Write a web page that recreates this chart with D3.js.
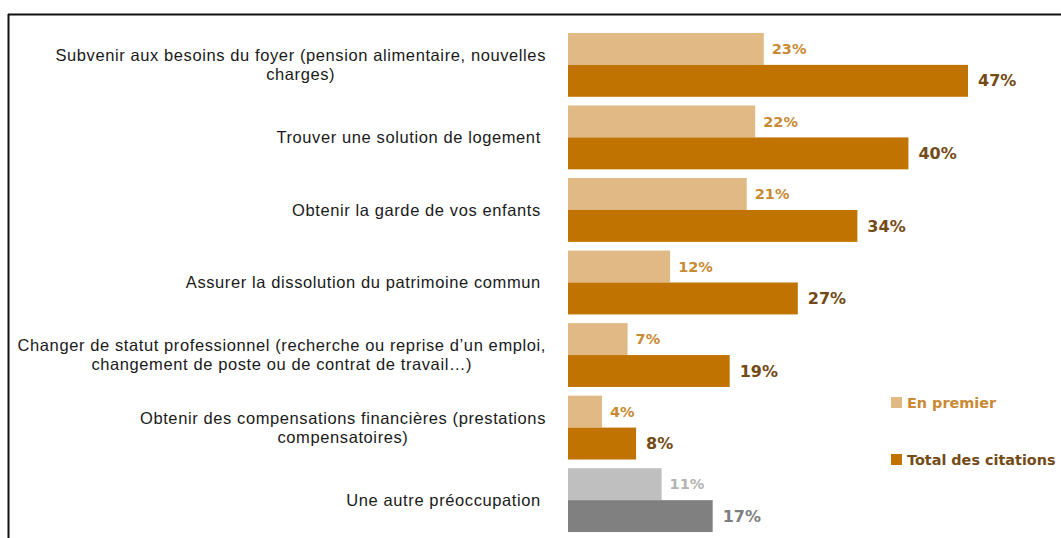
<!DOCTYPE html>
<html><head><meta charset="utf-8">
<script src="https://cdn.jsdelivr.net/npm/d3@7"></script>
<style>
html,body{margin:0;padding:0;background:#fff;}
svg{display:block;}
</style></head>
<body>
<svg id="chart" width="1061" height="538"></svg>
<script>
const categories = [
  ["Subvenir aux besoins du foyer (pension alimentaire, nouvelles", "charges)"],
  ["Trouver une solution de logement "],
  ["Obtenir la garde de vos enfants "],
  ["Assurer la dissolution du patrimoine commun "],
  ["Changer de statut professionnel (recherche ou reprise d\u2019un emploi,", "changement de poste ou de contrat de travail\u2026)"],
  ["Obtenir des compensations financi\u00e8res (prestations", "compensatoires)"],
  ["Une autre pr\u00e9occupation "]
];
const seriesNames = ["En premier", "Total des citations"];
const enPremier = [23, 22, 21, 12, 7, 4, 11];
const totalCitations = [47, 40, 34, 27, 19, 8, 17];
const barColors = ["#e0b984", "#c07300"];
const labelColors = ["#c98a34", "#744a16"];
const otherBarColors = ["#bfbfbf", "#808080"];
const otherLabelColors = ["#b3b3b3", "#7f7f7f"];

const svg = d3.select("#chart");
const valFont = "'DejaVu Sans', sans-serif";
const catFont = "'Liberation Sans', Arial, sans-serif";

// frame
svg.append("line").attr("x1", 8).attr("x2", 1061).attr("y1", 14.5).attr("y2", 14.5).attr("stroke", "#111").attr("stroke-width", 2);
svg.append("line").attr("x1", 8.5).attr("x2", 8.5).attr("y1", 14).attr("y2", 538).attr("stroke", "#111").attr("stroke-width", 2);

const ids = categories.map((c, i) => i);
const y = d3.scaleBand().domain(ids).range([28.6, 536.4]).paddingInner(0.12).paddingOuter(0.06);
const ySub = d3.scaleBand().domain([0, 1]).range([0, y.bandwidth()]);
const x = d3.scaleLinear().domain([0, 47]).range([568, 968]);

const rows = ids.map(i => ({i, vals: [enPremier[i], totalCitations[i]], other: i === categories.length - 1}));

const g = svg.append("g");
const grp = g.selectAll("g.grp").data(rows).join("g").attr("class", "grp")
  .attr("transform", d => `translate(0,${y(d.i)})`);

grp.selectAll("rect").data(d => d.vals.map((v, k) => ({v, k, other: d.other}))).join("rect")
  .attr("x", x(0))
  .attr("y", d => ySub(d.k))
  .attr("width", d => x(d.v) - x(0))
  .attr("height", ySub.bandwidth())
  .attr("fill", d => d.other ? otherBarColors[d.k] : barColors[d.k]);

grp.selectAll("text.val").data(d => d.vals.map((v, k) => ({v, k, other: d.other}))).join("text")
  .attr("class", "val")
  .attr("x", d => x(d.v) + (d.k === 0 ? 8 : 10))
  .attr("y", d => ySub(d.k) + ySub.bandwidth() / 2)
  .attr("dy", "0.35em")
  .attr("font-family", valFont)
  .attr("font-weight", "bold")
  .attr("font-size", d => d.k === 0 ? 14.5 : 16)
  .attr("fill", d => d.other ? otherLabelColors[d.k] : labelColors[d.k])
  .text(d => d.v + "%");

// category labels
const rightEdge = 546;
const lineH = 19;
rows.forEach(r => {
  const lines = categories[r.i];
  const t = svg.append("text")
    .attr("font-family", catFont)
    .attr("font-size", 16.5)
    .attr("letter-spacing", 0.6)
    .attr("fill", "#1a1a1a")
    .style("white-space", "pre");
  const cy = y(r.i) + y.bandwidth() / 2;
  const spans = lines.map((ln, j) => t.append("tspan")
    .attr("y", cy + (j - (lines.length - 1) / 2) * lineH)
    .attr("dy", "0.35em")
    .text(ln));
  const widths = spans.map(s => s.node().getComputedTextLength());
  const maxW = d3.max(widths);
  spans.forEach((s, j) => s.attr("x", rightEdge - maxW / 2).attr("text-anchor", "middle"));
});

// legend
const legY = [403, 460];
seriesNames.forEach((name, k) => {
  svg.append("rect").attr("x", 891).attr("y", legY[k] - 6).attr("width", 11).attr("height", 11).attr("fill", barColors[k]);
  svg.append("text").attr("x", 907).attr("y", legY[k]).attr("dy", "0.35em")
    .attr("font-family", valFont).attr("font-weight", "bold").attr("font-size", 14.4)
    .attr("fill", labelColors[k]).text(name);
});
</script>
</body></html>
